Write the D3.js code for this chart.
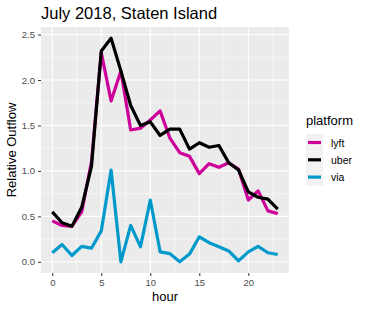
<!DOCTYPE html>
<meta charset="utf-8">
<style>
body { margin: 0; background: #fff; }
svg text { font-family: "Liberation Sans", Arial, sans-serif; }
.tick text { fill: #4d4d4d; font-size: 9.5px; }
.tick line { stroke: #333; }
</style>
<svg id="chart"></svg>
<script src="https://d3js.org/d3.v7.min.js"></script>
<script>

var hours = d3.range(0, 24);
var platforms = ["lyft", "uber", "via"];
var lyft = [0.45, 0.40, 0.39, 0.55, 1.10, 2.30, 1.77, 2.10, 1.45, 1.47, 1.56, 1.66,
            1.36, 1.20, 1.16, 0.97, 1.08, 1.04, 1.09, 1.02, 0.68, 0.78, 0.56, 0.53];
var uber = [0.55, 0.43, 0.39, 0.60, 1.05, 2.32, 2.46, 2.10, 1.72, 1.50, 1.54, 1.39,
            1.46, 1.46, 1.24, 1.31, 1.26, 1.28, 1.09, 1.01, 0.77, 0.71, 0.69, 0.58];
var via  = [0.10, 0.19, 0.07, 0.17, 0.15, 0.34, 1.01, 0.00, 0.40, 0.165, 0.68, 0.11,
            0.09, 0.00, 0.085, 0.275, 0.21, 0.165, 0.12, 0.01, 0.11, 0.17, 0.10, 0.08];
var xTicks = [0, 5, 10, 15, 20];
var yTicks = [0, 0.5, 1, 1.5, 2, 2.5];
var colors = {lyft: "#cc0099", uber: "#000000", via: "#0099cc"};

var series = {lyft: lyft, uber: uber, via: via};

var width = 366, height = 309;
var pLeft = 41, pRight = 289, pTop = 27, pBottom = 273;

var svg = d3.select("#chart").attr("width", width).attr("height", height);

var x = d3.scaleLinear().domain([-1.15, 24.15]).range([pLeft, pRight]);
var y = d3.scaleLinear().domain([-0.123, 2.583]).range([pBottom, pTop]);

svg.append("rect")
    .attr("x", pLeft).attr("y", pTop)
    .attr("width", pRight - pLeft).attr("height", pBottom - pTop)
    .attr("fill", "#ebebeb");

// minor grid
var xMinor = [2.5, 7.5, 12.5, 17.5, 22.5];
var yMinor = [0.25, 0.75, 1.25, 1.75, 2.25];
svg.selectAll(".xminor").data(xMinor).enter().append("line")
    .attr("x1", x).attr("x2", x).attr("y1", pTop).attr("y2", pBottom)
    .attr("stroke", "#fff").attr("stroke-width", 0.55);
svg.selectAll(".yminor").data(yMinor).enter().append("line")
    .attr("x1", pLeft).attr("x2", pRight).attr("y1", y).attr("y2", y)
    .attr("stroke", "#fff").attr("stroke-width", 0.55);
// major grid
svg.selectAll(".xmajor").data(xTicks).enter().append("line")
    .attr("x1", x).attr("x2", x).attr("y1", pTop).attr("y2", pBottom)
    .attr("stroke", "#fff").attr("stroke-width", 1.1);
svg.selectAll(".ymajor").data(yTicks).enter().append("line")
    .attr("x1", pLeft).attr("x2", pRight).attr("y1", y).attr("y2", y)
    .attr("stroke", "#fff").attr("stroke-width", 1.1);

var line = d3.line()
    .x(function(d, i) { return x(hours[i]); })
    .y(function(d) { return y(d); });

platforms.forEach(function(p) {
  svg.append("path")
      .datum(series[p])
      .attr("fill", "none")
      .attr("stroke", colors[p])
      .attr("stroke-width", 3.2)
      .attr("stroke-linejoin", "round")
      .attr("d", line);
});

// axes
var xAxis = svg.append("g")
    .attr("transform", "translate(0," + pBottom + ")")
    .call(d3.axisBottom(x).tickValues(xTicks).tickSize(3).tickPadding(3).tickFormat(d3.format("d")));
xAxis.select(".domain").remove();

var yAxis = svg.append("g")
    .attr("transform", "translate(" + pLeft + ",0)")
    .call(d3.axisLeft(y).tickValues(yTicks).tickSize(3).tickPadding(3).tickFormat(d3.format(".1f")));
yAxis.select(".domain").remove();

// titles
svg.append("text")
    .attr("x", pLeft).attr("y", 19)
    .attr("font-size", 16.5).attr("fill", "#000")
    .text("July 2018, Staten Island");

svg.append("text")
    .attr("x", (pLeft + pRight) / 2).attr("y", 301)
    .attr("text-anchor", "middle")
    .attr("font-size", 13).attr("fill", "#000")
    .text("hour");

svg.append("text")
    .attr("transform", "translate(16," + ((pTop + pBottom) / 2) + ") rotate(-90)")
    .attr("text-anchor", "middle")
    .attr("font-size", 13).attr("fill", "#000")
    .text("Relative Outflow");

// legend
var legend = svg.append("g").attr("transform", "translate(306,0)");
legend.append("text")
    .attr("x", 0).attr("y", 125)
    .attr("font-size", 13).attr("fill", "#000")
    .text("platform");

var item = legend.selectAll(".item").data(platforms).enter().append("g")
    .attr("transform", function(d, i) { return "translate(0," + (134 + i * 17.3) + ")"; });
item.append("rect")
    .attr("width", 17).attr("height", 17)
    .attr("fill", "#f2f2f2");
item.append("line")
    .attr("x1", 2).attr("x2", 15).attr("y1", 8.5).attr("y2", 8.5)
    .attr("stroke", function(d) { return colors[d]; })
    .attr("stroke-width", 3.2);
item.append("text")
    .attr("x", 25).attr("y", 12.5)
    .attr("font-size", 10.5).attr("fill", "#000")
    .text(function(d) { return d; });

</script>
